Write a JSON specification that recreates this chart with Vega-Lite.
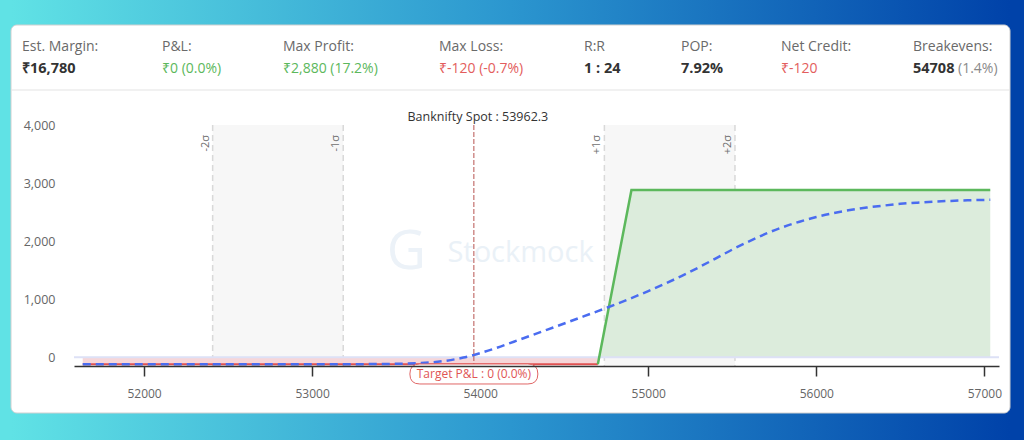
{
  "$schema": "https://vega.github.io/schema/vega-lite/v6.json",
  "width": 999,
  "height": 388,
  "autosize": {"type": "none"},
  "padding": {"left": 11, "top": 25, "right": 14, "bottom": 27},
  "background": "#2f9bd0",
  "config": {"view": {"stroke": null}, "font": "Open Sans"},
  "resolve": {"scale": {"x": "independent", "y": "independent"}, "axis": {"x": "independent", "y": "independent"}},
  "datasets": {
    "header": [
      {"col": 0, "row": 0, "text": "Est. Margin:", "tone": "label"},
      {"col": 0, "row": 1, "text": "₹16,780", "tone": "dark"},
      {"col": 1, "row": 0, "text": "P&L:", "tone": "label"},
      {"col": 1, "row": 1, "text": "₹0 (0.0%)", "tone": "green"},
      {"col": 2, "row": 0, "text": "Max Profit:", "tone": "label"},
      {"col": 2, "row": 1, "text": "₹2,880 (17.2%)", "tone": "green"},
      {"col": 3, "row": 0, "text": "Max Loss:", "tone": "label"},
      {"col": 3, "row": 1, "text": "₹-120 (-0.7%)", "tone": "red"},
      {"col": 4, "row": 0, "text": "R:R", "tone": "label"},
      {"col": 4, "row": 1, "text": "1 : 24", "tone": "dark"},
      {"col": 5, "row": 0, "text": "POP:", "tone": "label"},
      {"col": 5, "row": 1, "text": "7.92%", "tone": "dark"},
      {"col": 6, "row": 0, "text": "Net Credit:", "tone": "label"},
      {"col": 6, "row": 1, "text": "₹-120", "tone": "red"},
      {"col": 7, "row": 0, "text": "Breakevens:", "tone": "label"},
      {"col": 7, "row": 1, "text": "54708", "tone": "dark"},
      {"col": 8, "row": 1, "text": "(1.4%)", "tone": "muted"}
    ],
    "bands": [
      {"from": 52408, "to": 53185},
      {"from": 54739, "to": 55516}
    ],
    "sigma": [
      {"price": 52408, "label": "-2σ"},
      {"price": 53185, "label": "-1σ"},
      {"price": 54739, "label": "+1σ"},
      {"price": 55516, "label": "+2σ"}
    ],
    "payoff": [
      {"price": 51635, "pnl": -120, "zone": "loss"},
      {"price": 54700, "pnl": -120, "zone": "loss"},
      {"price": 54708, "pnl": 0, "zone": "loss"},
      {"price": 54700, "pnl": -120, "zone": "profit"},
      {"price": 54708, "pnl": 0, "zone": "profit"},
      {"price": 54900, "pnl": 2880, "zone": "profit"},
      {"price": 57035, "pnl": 2880, "zone": "profit"}
    ],
    "curve": [
      {"price": 51635, "pnl": -120},
      {"price": 52500, "pnl": -120},
      {"price": 53000, "pnl": -120},
      {"price": 53300, "pnl": -118},
      {"price": 53500, "pnl": -112},
      {"price": 53650, "pnl": -100},
      {"price": 53800, "pnl": -58},
      {"price": 53900, "pnl": -5},
      {"price": 54000, "pnl": 72},
      {"price": 54100, "pnl": 165},
      {"price": 54200, "pnl": 268},
      {"price": 54300, "pnl": 372},
      {"price": 54400, "pnl": 477},
      {"price": 54500, "pnl": 582},
      {"price": 54600, "pnl": 688},
      {"price": 54700, "pnl": 795},
      {"price": 54800, "pnl": 905},
      {"price": 54900, "pnl": 1020},
      {"price": 55000, "pnl": 1140},
      {"price": 55100, "pnl": 1268},
      {"price": 55200, "pnl": 1403},
      {"price": 55300, "pnl": 1548},
      {"price": 55400, "pnl": 1700},
      {"price": 55500, "pnl": 1855},
      {"price": 55600, "pnl": 1997},
      {"price": 55700, "pnl": 2128},
      {"price": 55800, "pnl": 2240},
      {"price": 55900, "pnl": 2335},
      {"price": 56000, "pnl": 2415},
      {"price": 56100, "pnl": 2482},
      {"price": 56200, "pnl": 2535},
      {"price": 56300, "pnl": 2578},
      {"price": 56400, "pnl": 2612},
      {"price": 56500, "pnl": 2642},
      {"price": 56600, "pnl": 2663},
      {"price": 56700, "pnl": 2680},
      {"price": 56800, "pnl": 2693},
      {"price": 56900, "pnl": 2703},
      {"price": 57035, "pnl": 2712}
    ],
    "spot": [
      {"price": 53962.3, "label": "Banknifty Spot : 53962.3", "target": "Target P&L : 0 (0.0%)", "mark": "Stockmock", "logo": "G"}
    ]
  },
  "layer": [
    {
      "data": {"values": [{}]},
      "mark": {"type": "rect", "filled": false, "strokeWidth": 60, "strokeJoin": "miter", "stroke": {"gradient": "linear", "x1": 0, "y1": 0.5, "x2": 1, "y2": 0.5, "stops": [{"offset": 0, "color": "#60e2e5"}, {"offset": 0.5, "color": "#2b96cf"}, {"offset": 1, "color": "#0042a9"}]}}
    },
    {
      "data": {"values": [{}]},
      "mark": {"type": "rect", "fill": "white", "stroke": "#d0d0d0", "strokeWidth": 1, "cornerRadius": 6}
    },
    {
      "data": {"name": "header"},
      "encoding": {
        "x": {"field": "col", "type": "quantitative", "scale": {"domain": [0, 1, 2, 3, 4, 5, 6, 7, 8], "range": [11, 151, 272, 428, 573, 670, 770, 902, 947], "nice": false, "zero": false}, "axis": null},
        "y": {"field": "row", "type": "quantitative", "scale": {"domain": [0, 1, 2], "range": [22, 44, 65], "nice": false, "zero": false}, "axis": null}
      },
      "layer": [
        {
          "data": {"values": [{"row": 2}]},
          "mark": {"type": "rule", "color": "#e3e3e3", "strokeWidth": 1},
          "encoding": {"x": null}
        },
        {
          "transform": [{"filter": "datum.tone !== 'dark'"}],
          "mark": {"type": "text", "align": "left", "baseline": "middle", "fontSize": 14},
          "encoding": {
            "text": {"field": "text"},
            "color": {"field": "tone", "type": "nominal", "scale": {"domain": ["label", "dark", "green", "red", "muted"], "range": ["#6a6a6a", "#333333", "#5cb85c", "#e35d5d", "#8a8a8a"]}, "legend": null}
          }
        },
        {
          "transform": [{"filter": "datum.tone === 'dark'"}],
          "mark": {"type": "text", "align": "left", "baseline": "middle", "fontSize": 14.5, "fontWeight": "bold", "color": "#333333"},
          "encoding": {"text": {"field": "text"}}
        }
      ]
    },
    {
      "layer": [
        {
          "data": {"name": "bands"},
          "mark": {"type": "rect", "fill": "#f7f7f7"},
          "encoding": {
            "x": {"field": "from", "type": "quantitative", "title": null,
              "scale": {"domain": [51583, 57087], "range": [63, 988], "nice": false, "zero": false},
              "axis": {"orient": "bottom", "offset": -47, "zindex": 1, "values": [52000, 53000, 54000, 55000, 56000, 57000], "labelExpr": "format(datum.value, 'd')", "grid": false, "domainColor": "#333333", "domainWidth": 1.5, "tickColor": {"condition": {"test": "datum.value === 54000", "value": "transparent"}, "value": "#333333"}, "tickWidth": 1.5, "tickSize": 10, "labelColor": "#666666", "labelFontSize": 12, "labelPadding": 12, "labelFont": "Open Sans"}},
            "x2": {"field": "to"},
            "y": {"datum": 4000, "type": "quantitative", "title": null,
              "scale": {"domain": [-150, 4000], "range": [341, 100], "nice": false, "zero": false},
              "axis": {"orient": "left", "offset": -63, "zindex": 1, "values": [0, 1000, 2000, 3000, 4000], "labelExpr": "format(datum.value, ',')", "grid": false, "domain": false, "ticks": false, "labelPadding": 19, "labelColor": "#666666", "labelFontSize": 12.5, "labelFont": "Open Sans"}},
            "y2": {"datum": -150}
          }
        },
        {
          "data": {"name": "sigma"},
          "mark": {"type": "rule", "color": "#d9d9d9", "strokeWidth": 1.5, "strokeDash": [6, 4]},
          "encoding": {
            "x": {"field": "price", "type": "quantitative", "title": null},
            "y": {"datum": 4000, "type": "quantitative"},
            "y2": {"datum": -150}
          }
        },
        {
          "data": {"name": "sigma"},
          "mark": {"type": "text", "angle": 270, "align": "right", "baseline": "bottom", "fontSize": 11, "color": "#707070", "yOffset": 10, "xOffset": -2},
          "encoding": {
            "x": {"field": "price", "type": "quantitative", "title": null},
            "y": {"datum": 4000, "type": "quantitative"},
            "text": {"field": "label"}
          }
        },
        {
          "data": {"name": "spot"},
          "mark": {"type": "text", "fontSize": 29, "color": "#eaf1f7", "align": "center", "baseline": "middle"},
          "encoding": {
            "x": {"datum": 54240, "type": "quantitative"},
            "y": {"datum": 1800, "type": "quantitative"},
            "text": {"field": "mark"}
          }
        },
        {
          "data": {"name": "spot"},
          "mark": {"type": "text", "fontSize": 54, "color": "#ecf2f8", "align": "center", "baseline": "middle"},
          "encoding": {
            "x": {"datum": 53560, "type": "quantitative"},
            "y": {"datum": 1800, "type": "quantitative"},
            "text": {"field": "logo"}
          }
        },
        {
          "data": {"name": "payoff"},
          "mark": {"type": "area", "opacity": 1},
          "encoding": {
            "x": {"field": "price", "type": "quantitative", "title": null},
            "y": {"field": "pnl", "type": "quantitative", "title": null},
            "y2": {"datum": 0},
            "fill": {"field": "zone", "type": "nominal", "scale": {"domain": ["loss", "profit"], "range": ["#f6d6d9", "#dcecdc"]}, "legend": null}
          }
        },
        {
          "data": {"values": [{}]},
          "mark": {"type": "rule", "color": "#dde1f6", "strokeWidth": 2},
          "encoding": {
            "x": {"datum": 51583, "type": "quantitative"},
            "x2": {"datum": 57087},
            "y": {"datum": 0, "type": "quantitative"}
          }
        },
        {
          "data": {"name": "payoff"},
          "transform": [{"filter": "datum.zone === 'loss' && datum.pnl < 0"}],
          "mark": {"type": "line", "color": "#e05252", "strokeWidth": 2},
          "encoding": {
            "x": {"field": "price", "type": "quantitative", "title": null},
            "y": {"field": "pnl", "type": "quantitative", "title": null}
          }
        },
        {
          "data": {"name": "payoff"},
          "transform": [{"filter": "datum.zone === 'profit'"}],
          "mark": {"type": "line", "color": "#5cb85c", "strokeWidth": 2.5},
          "encoding": {
            "x": {"field": "price", "type": "quantitative", "title": null},
            "y": {"field": "pnl", "type": "quantitative", "title": null}
          }
        },
        {
          "data": {"name": "curve"},
          "mark": {"type": "line", "color": "#4a6cf0", "strokeWidth": 2.5, "strokeDash": [8, 5], "interpolate": "monotone"},
          "encoding": {
            "x": {"field": "price", "type": "quantitative", "title": null},
            "y": {"field": "pnl", "type": "quantitative", "title": null}
          }
        },
        {
          "data": {"name": "spot"},
          "mark": {"type": "rule", "color": "#b85450", "strokeWidth": 1, "strokeDash": [5, 2]},
          "encoding": {
            "x": {"field": "price", "type": "quantitative", "title": null},
            "y": {"datum": 4000, "type": "quantitative"},
            "y2": {"datum": -150}
          }
        },
        {
          "data": {"name": "spot"},
          "mark": {"type": "text", "fontSize": 12.5, "color": "#333333", "align": "center", "baseline": "alphabetic", "yOffset": -4, "xOffset": 4},
          "encoding": {
            "x": {"field": "price", "type": "quantitative", "title": null},
            "y": {"datum": 4000, "type": "quantitative"},
            "text": {"field": "label"}
          }
        },
        {
          "data": {"name": "spot"},
          "mark": {"type": "point", "shape": "M-0.844,-0.156 L0.844,-0.156 Q1,-0.156 1,0 Q1,0.156 0.844,0.156 L-0.844,0.156 Q-1,0.156 -1,0 Q-1,-0.156 -0.844,-0.156 Z", "size": 16384, "filled": true, "fill": "white", "stroke": "#e06666", "strokeWidth": 1, "opacity": 1, "yOffset": 8},
          "encoding": {
            "x": {"field": "price", "type": "quantitative", "title": null},
            "y": {"datum": -150, "type": "quantitative"}
          }
        },
        {
          "data": {"name": "spot"},
          "mark": {"type": "text", "fontSize": 12, "color": "#e05555", "align": "center", "baseline": "middle", "yOffset": 8},
          "encoding": {
            "x": {"field": "price", "type": "quantitative", "title": null},
            "y": {"datum": -150, "type": "quantitative"},
            "text": {"field": "target"}
          }
        }
      ]
    }
  ]
}
